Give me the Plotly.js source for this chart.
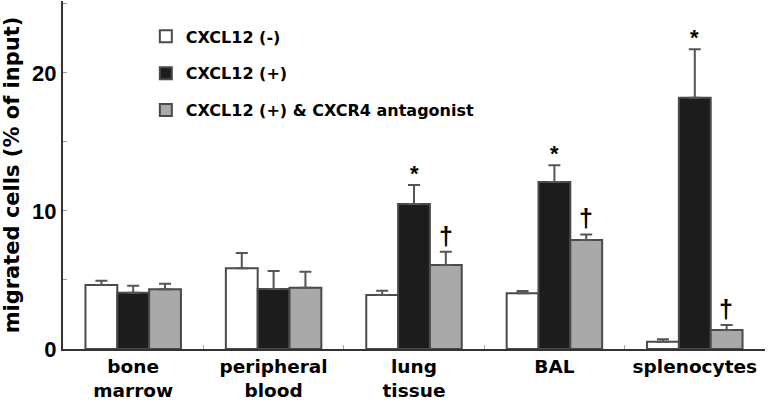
<!DOCTYPE html>
<html>
<head>
<meta charset="utf-8">
<script src="https://cdn.plot.ly/plotly-3.0.1.min.js"></script>
<style>html,body{margin:0;padding:0;background:#fff;}#chart{width:769px;height:405px;}</style>
</head>
<body>
<div id="chart"></div>
<script>
var categories = ['bone<br>marrow', 'peripheral<br>blood', 'lung<br>tissue', 'BAL', 'splenocytes'];
var seriesNames = ['CXCL12 (-)', 'CXCL12 (+)', 'CXCL12 (+) &amp; CXCR4 antagonist'];
var cxcl12Neg = [4.64, 5.85, 3.91, 4.03, 0.53];
var cxcl12NegErr = [0.3, 1.1, 0.3, 0.17, 0.17];
var cxcl12Pos = [4.08, 4.35, 10.5, 12.1, 18.2];
var cxcl12PosErr = [0.5, 1.3, 1.38, 1.2, 3.5];
var antagonist = [4.33, 4.44, 6.09, 7.9, 1.38];
var antagonistErr = [0.4, 1.15, 0.96, 0.4, 0.36];
var yTickVals = [0, 5, 10, 15, 20, 25];
var yTickText = ['0', '', '10', '', '20', ''];
var starCats = [2, 3, 4];
var daggerCats = [2, 3, 4];

var fills = ['#ffffff', '#1c1c1c', '#a9a9a9'];
var vals = [cxcl12Neg, cxcl12Pos, antagonist];
var errs = [cxcl12NegErr, cxcl12PosErr, antagonistErr];
var FONT = 'Liberation Sans, Arial, sans-serif';
var WIDE = 'DejaVu Sans, Liberation Sans, sans-serif';

var traces = vals.map(function (v, i) {
  return {
    type: 'bar',
    name: seriesNames[i],
    x: categories,
    y: v,
    legendgroup: 'g' + i,
    marker: {color: fills[i], line: {color: '#4a4a4a', width: 2}},
    error_y: {type: 'data', symmetric: false, array: errs[i],
      arrayminus: errs[i].map(function () { return 0; }),
      color: '#555555', thickness: 2, width: 6}
  };
});

var annotations = [];
starCats.forEach(function (c) {
  annotations.push({x: categories[c], y: cxcl12Pos[c] + cxcl12PosErr[c], yanchor: 'bottom',
    text: '*', showarrow: false, yshift: -3, font: {size: 22, color: '#000', family: FONT, weight: 'bold'}});
});
daggerCats.forEach(function (c) {
  annotations.push({x: categories[c], y: antagonist[c] + antagonistErr[c], yanchor: 'bottom',
    text: '†', showarrow: false, xshift: 31.5, yshift: 0, font: {size: 25, color: '#000', family: FONT, weight: 'bold'}});
});

var layout = {
  width: 769, height: 405,
  margin: {l: 63, r: 4, t: 1, b: 56},
  paper_bgcolor: '#ffffff', plot_bgcolor: '#ffffff',
  font: {family: FONT, color: '#000'},
  barmode: 'group', bargap: 0.32, bargroupgap: 0,
  showlegend: true,
  legend: {x: 0.118, y: 0.947, xanchor: 'left', yanchor: 'top', traceorder: 'grouped',
    tracegroupgap: 13, bgcolor: 'rgba(255,255,255,0.9)',
    font: {size: 16, color: '#000', family: WIDE, weight: 'bold'}},
  xaxis: {type: 'category', showline: true, linecolor: '#333', linewidth: 2,
    ticks: 'inside', tickson: 'boundaries', ticklen: 4, tickcolor: '#aaa',
    tickfont: {size: 18.5, color: '#000', family: WIDE, weight: 'bold'},
    showgrid: false, zeroline: false, fixedrange: true},
  yaxis: {range: [0, 25.2], showline: true, linecolor: '#333', linewidth: 2,
    tickmode: 'array', tickvals: yTickVals, ticktext: yTickText,
    ticks: 'inside', ticklen: 4, tickcolor: '#999',
    tickfont: {size: 22, color: '#000', family: FONT, weight: 'bold'},
    showgrid: false, zeroline: false,
    title: {text: 'migrated cells (% of input)', font: {size: 21, color: '#000', family: WIDE, weight: 'bold'}, standoff: 7}},
  annotations: annotations
};

Plotly.newPlot('chart', traces, layout, {displayModeBar: false, staticPlot: true});
</script>
</body>
</html>
